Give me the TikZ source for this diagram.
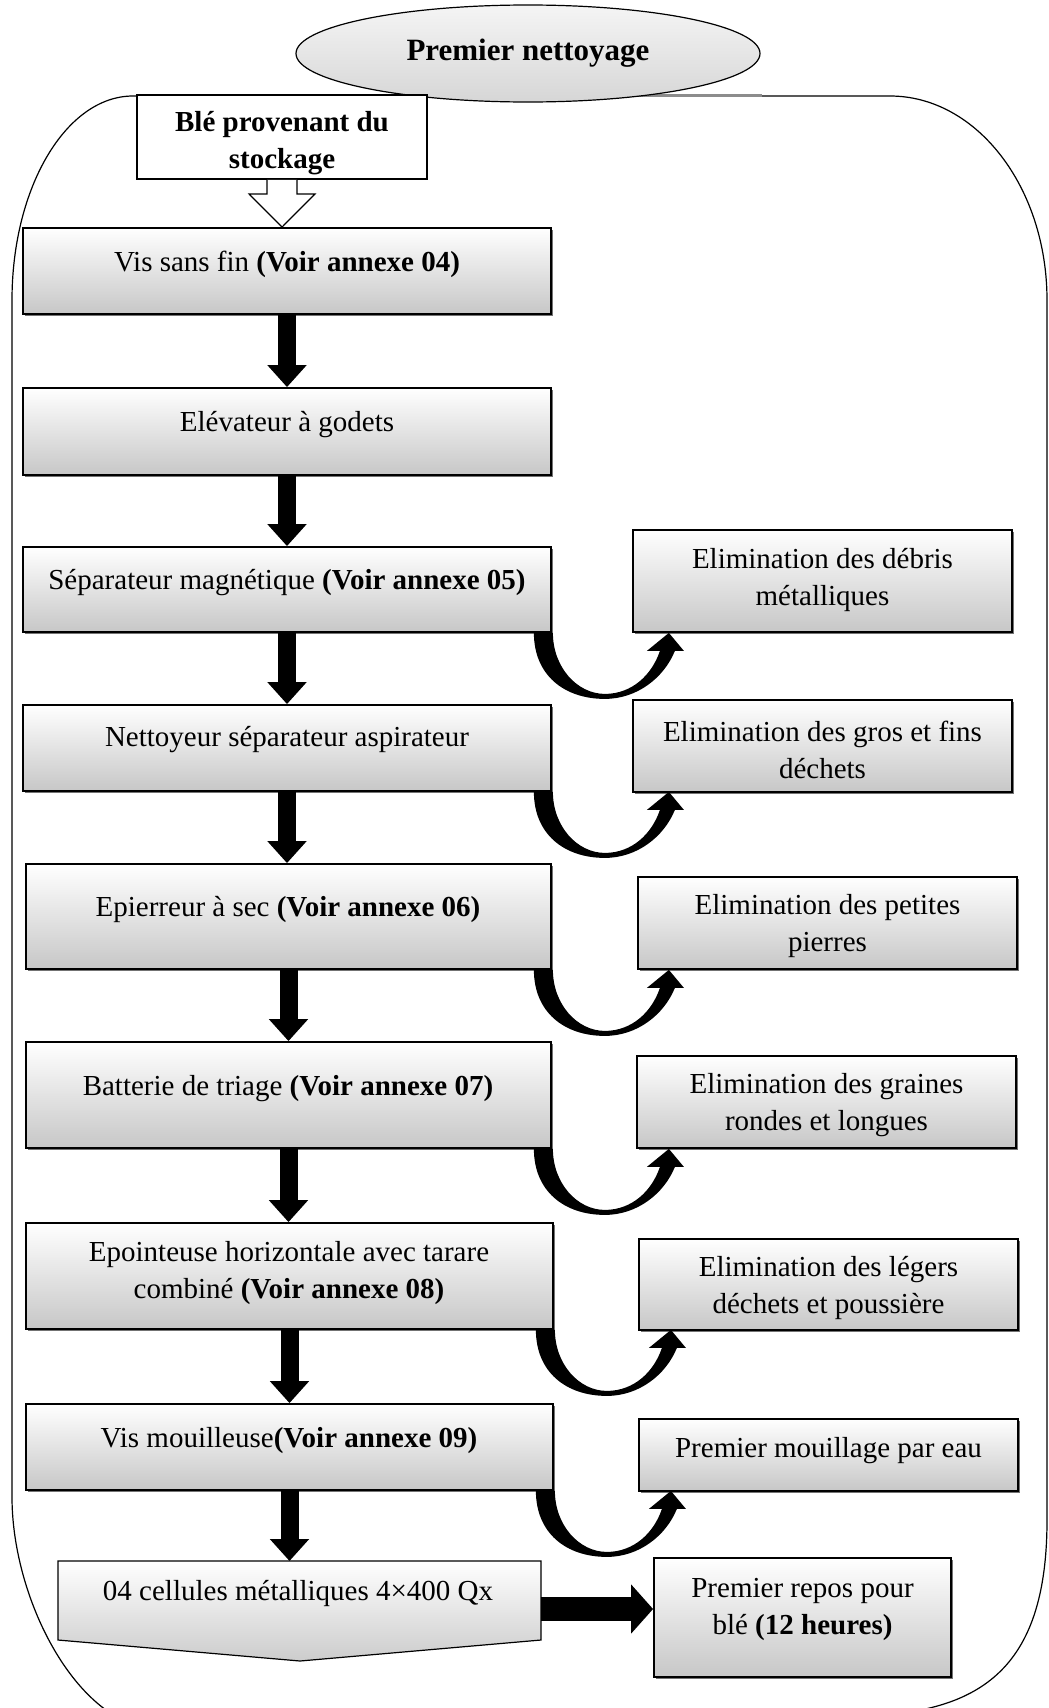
\documentclass[tikz,border=0pt]{standalone}
\usepackage{fontspec}
\setmainfont{Liberation Serif}
\usetikzlibrary{arrows.meta,shadows,fit,shapes.geometric,calc}
\newcommand\bodysize{\fontsize{29pt}{37pt}\selectfont}
\newcommand\titlesize{\fontsize{31pt}{37pt}\selectfont}
% tapered U-shaped reject arrow hanging under a stage box
\newcommand\bendarrow[1]{%
  \fill[shift={(#1.south east)}]
    (-18,0) .. controls (-18,42) and (12,66) .. (53,66)
    .. controls (85,66) and (112,45) .. (123,18)
    -- (132,18) -- (117,0) -- (95,18) -- (108,18)
    .. controls (100,42) and (80,61) .. (53,61)
    .. controls (25,61) and (1,34) .. (1,0) -- cycle;}
\begin{document}
\begin{tikzpicture}[x=1pt,y=-1pt,
  frameline/.style={draw=black, line width=1.2pt},
  stagebox/.style={draw=black, line width=1.8pt, inner sep=0pt,
    top color=white, middle color=white, bottom color=black!22,
    drop shadow={shadow xshift=2pt, shadow yshift=-2pt, fill=black!55, opacity=1}},
  plainbox/.style={draw=black, line width=1.8pt, inner sep=0pt, fill=white},
  txt/.style={font=\bodysize, align=center, inner sep=0pt},
  flow/.style={line width=18pt, -{Triangle[width=38pt, length=22pt]}},
  bigflow/.style={line width=24pt, -{Triangle[width=48pt, length=22pt]}},
]
\useasboundingbox (0,0) rectangle (1049,1708);
\clip (0,0) rectangle (1049,1708);

% outer rounded frame
\draw[frameline] (12,1497) -- (12,300)
  .. controls (12,187.3) and (66.2,96) .. (133,96) -- (890,96)
  .. controls (976.7,96) and (1047,187.3) .. (1047,300) -- (1047,1520)
  .. controls (1047,1670) and (980,1716) .. (850,1716) -- (162,1730)
  .. controls (79.2,1730) and (12,1601.3) .. (12,1497);
\draw[black!45, line width=3pt] (298,95) -- (762,95);

% title
\node[ellipse, draw=black, line width=1.2pt, minimum width=464pt, minimum height=97pt,
  inner sep=0pt, top color=black!4, bottom color=black!16] (title) at (528,53.5)
  {\titlesize\bfseries Premier nettoyage};

% main line of stages
\node[plainbox, fit={(137,95) (427,179)}] (src) {};
\node[txt, font=\bodysize\bfseries] (tsrc) at (282,143) {Blé provenant du\\stockage};

\node[stagebox, fit={(23,228) (551,314)}] (b1) {};
\node[stagebox, fit={(23,388) (551,475)}] (b2) {};
\node[stagebox, fit={(23,547) (551,632)}] (b3) {};
\node[stagebox, fit={(23,705) (551,791)}] (b4) {};
\node[stagebox, fit={(26,864) (551,969)}] (b5) {};
\node[stagebox, fit={(26,1042) (551,1148)}] (b6) {};
\node[stagebox, fit={(26,1223) (553,1329)}] (b7) {};
\node[stagebox, fit={(26,1404) (553,1490)}] (b8) {};

\node[txt] (t1) at (287,264) {Vis sans fin \textbf{(Voir annexe 04)}};
\node[txt] (t2) at (287,425) {Elévateur à godets};
\node[txt] (t3) at (287,583) {Séparateur magnétique \textbf{(Voir annexe 05)}};
\node[txt] (t4) at (287,740) {Nettoyeur séparateur aspirateur};
\node[txt] (t5) at (288,909) {Epierreur à sec \textbf{(Voir annexe 06)}};
\node[txt] (t6) at (288,1089) {Batterie de triage \textbf{(Voir annexe 07)}};
\node[txt] (t7) at (289,1273) {Epointeuse horizontale avec tarare\\combiné \textbf{(Voir annexe 08)}};
\node[txt] (t8) at (289,1441) {Vis mouilleuse\textbf{(Voir annexe 09)}};

% storage cells (pointed box)
\draw[line width=1.2pt, top color=white, middle color=white, bottom color=black!20]
  (58,1561) -- (541,1561) -- (541,1640) -- (300,1661) -- (58,1640) -- cycle;
\coordinate (b9n) at (299,1561);
\coordinate (b9e) at (541,1609);
\node[txt] (t9) at (298,1593) {04 cellules métalliques 4×400 Qx};

% rejects
\node[stagebox, fit={(633,530) (1012,632)}] (r1) {};
\node[stagebox, fit={(633,700) (1012,792)}] (r2) {};
\node[stagebox, fit={(638,877) (1017,969)}] (r3) {};
\node[stagebox, fit={(637,1056) (1016,1148)}] (r4) {};
\node[stagebox, fit={(639,1239) (1018,1330)}] (r5) {};
\node[stagebox, fit={(639,1419) (1018,1491)}] (r6) {};
\node[stagebox, fit={(654,1558) (951,1677)}] (r7) {};

\node[txt] (u1) at (r1.center |- 0,580) {Elimination des débris\\métalliques};
\node[txt] (u2) at (r2.center |- 0,750) {Elimination des gros et fins\\déchets};
\node[txt] (u3) at (r3.center |- 0,926) {Elimination des petites\\pierres};
\node[txt] (u4) at (r4.center |- 0,1105) {Elimination des graines\\rondes et longues};
\node[txt] (u5) at (r5.center |- 0,1288) {Elimination des légers\\déchets et poussière};
\node[txt] (u6) at (r6.center |- 0,1451) {Premier mouillage par eau};
\node[txt] (u7) at (r7.center |- 0,1609) {Premier repos pour\\blé \textbf{(12 heures)}};

% hollow feed arrow
\draw[line width=1.2pt, fill=white]
  ($(src.south)+(-15,0)$) -- ++(0,14) -- ++(-18,0) -- (src.south |- b1.north)
  -- ($(src.south)+(33,14)$) -- ++(-18,0) -- ++(0,-14);

% main flow
\draw[flow] (b1.south) -- (b1.south |- b2.north);
\draw[flow] (b2.south) -- (b2.south |- b3.north);
\draw[flow] (b3.south) -- (b3.south |- b4.north);
\draw[flow] (b4.south) -- (b4.south |- b5.north);
\draw[flow] (b5.south) -- (b5.south |- b6.north);
\draw[flow] (b6.south) -- (b6.south |- b7.north);
\draw[flow] (b7.south) -- (b7.south |- b8.north);
\draw[flow] (b8.south) -- (b8.south |- b9n);
\draw[bigflow] (b9e) -- (b9e -| r7.west);

% reject arrows
\bendarrow{b3}
\bendarrow{b4}
\bendarrow{b5}
\bendarrow{b6}
\bendarrow{b7}
\bendarrow{b8}
\end{tikzpicture}
\end{document}
